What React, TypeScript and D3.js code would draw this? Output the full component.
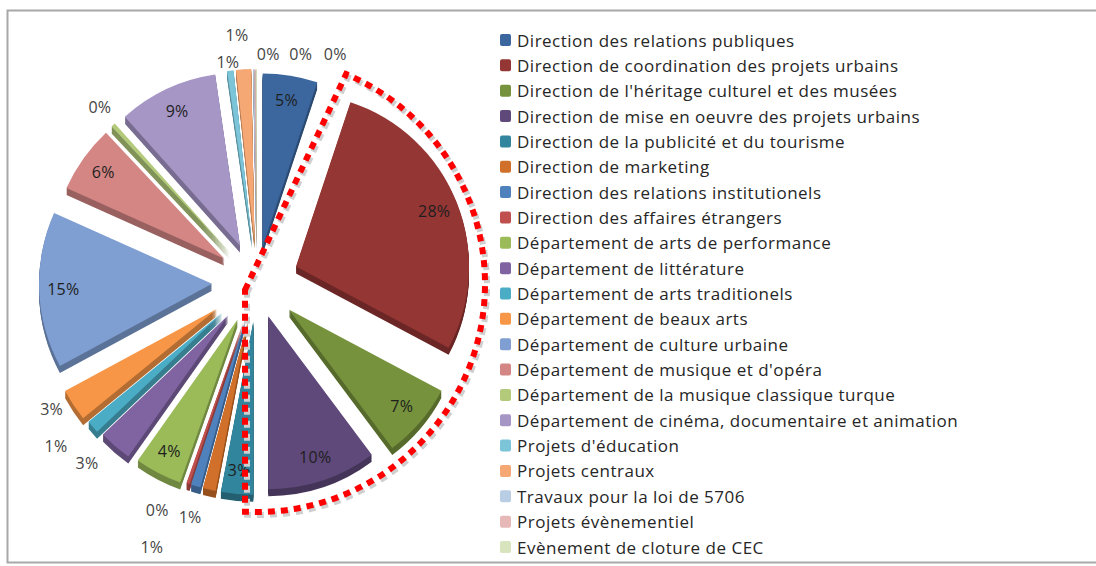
import React from "react";
import * as d3 from "d3";

const categories: string[] = [
  "Direction des relations publiques",
  "Direction de coordination des projets urbains",
  "Direction de l'héritage culturel et des musées",
  "Direction de mise en oeuvre des projets urbains",
  "Direction de la publicité et du tourisme",
  "Direction de marketing",
  "Direction des relations institutionels",
  "Direction des affaires étrangers",
  "Département de arts de performance",
  "Département de littérature",
  "Département de arts traditionels",
  "Département de beaux arts",
  "Département de culture urbaine",
  "Département de musique et d'opéra",
  "Département de la musique classique turque",
  "Département de cinéma, documentaire et animation",
  "Projets d'éducation",
  "Projets centraux",
  "Travaux pour la loi de 5706",
  "Projets évènementiel",
  "Evènement de cloture de CEC",
];

const values: number[] = [
  5.1, 27.7, 7.0, 10.2, 3.0, 1.2, 0.9, 0.3, 4.4, 3.1, 1.2, 3.0, 14.6, 6.3, 0.4,
  9.3, 0.6, 1.4, 0.1, 0.1, 0.1,
];

const colors: string[] = [
  "#3C679E", "#943634", "#76923C", "#5F497A", "#31859C", "#D0702A",
  "#4F81BD", "#C0504D", "#9BBB59", "#8064A2", "#4BACC6", "#F79646",
  "#7F9ED1", "#D38684", "#B2CA7A", "#A696C6", "#7CC4D8", "#F5A874",
  "#B9CDE5", "#E6B9B8", "#D7E4BD",
];

// which percentage labels sit inside the slice
const labelInside: boolean[] = [
  true, true, true, true, true, false, false, false, true, false, false, false,
  true, true, false, true, false, false, false, false, false,
];

// explosion distance of each slice (style)
const explode: number[] = [
  36, 42, 42, 36, 40, 40, 40, 40, 42, 44, 46, 48, 45, 40, 40, 40, 40, 40, 40, 40, 40,
];

// label nudges for outside labels to avoid collisions (layout)
const labelNudge: [number, number][] = [
  [0, 0], [0, 0], [0, 0], [0, 0], [0, 0], [-13, 1], [-36, 35], [-22, 1],
  [0, 0], [-13, -1], [-21, 5], [-6, -7], [0, 0], [0, 0], [5, 2], [0, 0],
  [1, 18], [-5, -7], [15, 12], [46, 12], [79, 12],
];

export default function App() {
  const W = 1096;
  const H = 566;
  const cx = 257;
  const cy = 282;
  const r = 173;
  const depth = 7;
  const outR = 240;

  const total = d3.sum(values);
  const pieData = d3.pie<number>().sort(null).value((d) => d)(values);
  const arcGen = d3
    .arc<d3.PieArcDatum<number>>()
    .innerRadius(0)
    .outerRadius(r);

  const slices = pieData.map((p, i) => {
    const mid = (p.startAngle + p.endAngle) / 2;
    const e = explode[i];
    const ox = cx + Math.sin(mid) * e;
    const oy = cy - Math.cos(mid) * e;
    const pct = Math.round((p.value / total) * 100) + "%";
    let lx: number, ly: number;
    if (labelInside[i]) {
      lx = ox + Math.sin(mid) * r * 0.86;
      ly = oy - Math.cos(mid) * r * 0.86;
    } else {
      lx = cx + Math.sin(mid) * outR + labelNudge[i][0];
      ly = cy - Math.cos(mid) * outR + labelNudge[i][1];
    }
    return { p, i, ox, oy, mid, pct, lx, ly, d: arcGen(p) as string };
  });

  const sideLayers = d3.range(depth, 0, -1);

  // highlight outline around the three slices
  const hc = { x: 257, y: 284 };
  const hr = 228;
  const a0 = (23 * Math.PI) / 180;
  const a1 = (182 * Math.PI) / 180;
  const corner = { x: hc.x - 12, y: hc.y + 6 };
  const s = { x: hc.x + Math.sin(a0) * hr, y: hc.y - Math.cos(a0) * hr };
  const en = { x: hc.x + Math.sin(a1) * hr, y: hc.y - Math.cos(a1) * hr };
  const outline =
    `M${corner.x},${corner.y} L${s.x},${s.y} ` +
    `A${hr},${hr} 0 0 1 ${en.x},${en.y} L${corner.x},${en.y} Z`;

  const legendX = 500;
  const legendY0 = 40;
  const legendStep = 25.35;

  return (
    <svg
      width={W}
      height={H}
      style={{ position: "fixed", left: 0, top: 0, background: "#fff" }}
      fontFamily="'Open Sans', Lato, sans-serif"
    >
      <rect x={0} y={0} width={W} height={H} fill="#fff" />
      <rect
        x={7.5}
        y={10.5}
        width={W + 10}
        height={552}
        fill="none"
        stroke="#a8a8a8"
        strokeWidth={2}
      />
      {/* side faces */}
      {slices.map((sl) =>
        sideLayers.map((k) => (
          <path
            key={`s${sl.i}-${k}`}
            d={sl.d}
            transform={`translate(${sl.ox},${sl.oy + k})`}
            fill={d3.color(colors[sl.i])!.darker(0.9).toString()}
          />
        ))
      )}
      {/* top faces */}
      {slices.map((sl) => (
        <path
          key={`t${sl.i}`}
          d={sl.d}
          transform={`translate(${sl.ox},${sl.oy})`}
          fill={colors[sl.i]}
        />
      ))}
      {/* labels */}
      {slices.map((sl) => (
        <text
          key={`l${sl.i}`}
          x={sl.lx}
          y={sl.ly}
          textAnchor="middle"
          dominantBaseline="central"
          fontSize={16}
          letterSpacing={0.3}
          fill={labelInside[sl.i] ? "#1e1e1e" : "#444"}
        >
          {sl.pct}
        </text>
      ))}
      {/* highlight outline */}
      <path
        d={outline}
        transform="translate(2,3)"
        fill="none"
        stroke="#cfcfcf"
        strokeWidth={6}
        strokeDasharray="7 6"
      />
      <path
        d={outline}
        fill="none"
        stroke="#ff0000"
        strokeWidth={6}
        strokeDasharray="7 6"
      />
      {/* legend */}
      {categories.map((c, i) => {
        const y = legendY0 + i * legendStep;
        return (
          <g key={`lg${i}`}>
            <rect
              x={legendX}
              y={y - 6}
              width={11}
              height={12}
              rx={2}
              fill={colors[i]}
            />
            <text
              x={legendX + 17}
              y={y}
              dominantBaseline="central"
              fontSize={17}
              letterSpacing={0.5}
              fill="#262626"
            >
              {c}
            </text>
          </g>
        );
      })}
    </svg>
  );
}
